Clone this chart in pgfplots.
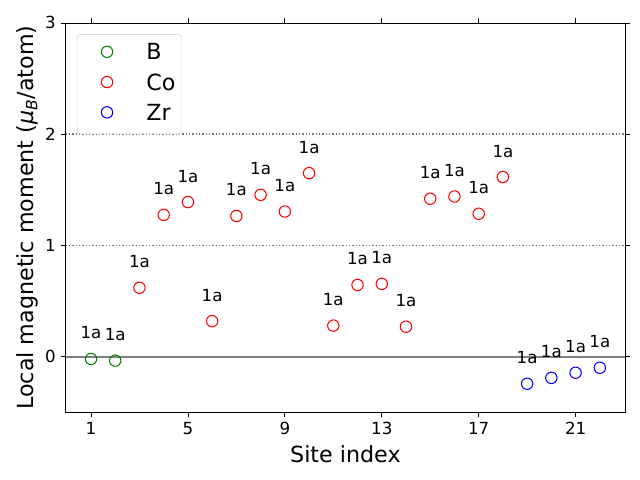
\documentclass[border=0pt]{standalone}
\usepackage{fontspec}
\setmainfont{DejaVu Sans}
\usepackage{pgfplots}
\pgfplotsset{compat=1.18}
\definecolor{mplgreen}{RGB}{0,128,0}
\begin{document}
\begin{tikzpicture}[x=1pt,y=1pt]
\useasboundingbox (0,0) rectangle (460.8,345.6);
\begin{axis}[
  at={(47.2pt,48.7pt)}, anchor=south west,
  scale only axis, width=403pt, height=280.4pt,
  xmin=-0.05, xmax=23.05, ymin=-0.5, ymax=3,
  xtick={1,5,9,13,17,21}, ytick={0,1,2,3},
  tick align=outside, tick style={black, line width=0.6pt},
  major tick length=3.5pt,
  axis line style={line width=0.6pt},
  ticklabel style={font=\fontsize{12}{14}\selectfont},
  /pgf/number format/assume math mode=true,
  xlabel={Site index}, ylabel={Local magnetic moment (\textit{μ}\textsubscript{\textit{B}}/atom)},
  label style={font=\fontsize{16}{19}\selectfont},
  xlabel style={yshift=-1pt},
  ylabel style={yshift=-2pt},
  legend style={font=\fontsize{16}{19}\selectfont, draw=black!15, rounded corners=2pt,
    at={(axis description cs:0.02,0.971)}, anchor=north west,
    row sep=6.3pt, inner xsep=4pt, inner ysep=6.2pt,
    nodes={inner sep=0pt, text height=12pt, text depth=3.5pt},
    /tikz/every even column/.append style={column sep=6pt}},
  legend cell align=left,
  legend image code/.code={\path[draw=none] (0pt,0pt) -- (46pt,0pt); \draw[#1, mark size=4.1pt] plot coordinates {(17.6pt,1.5pt)};},
  clip=false,
  nodes near coords={1a},
  every node near coord/.append style={font=\fontsize{12}{14}\selectfont, anchor=center, yshift=18.7pt, text=black},
]
\addplot[forget plot, gray, line width=1.2pt, nodes near coords={}] coordinates {(-0.05,0) (23.05,0)};
\addplot[forget plot, black!55, dash pattern=on 1.1pt off 1.3pt, line width=1.1pt, nodes near coords={}] coordinates {(-0.05,1) (23.05,1)};
\addplot[forget plot, black!55, dash pattern=on 1.1pt off 1.3pt, line width=1.1pt, nodes near coords={}] coordinates {(-0.05,2) (23.05,2)};
\addplot[only marks, mark=o, mark size=4.1pt, mplgreen, line width=0.75pt] coordinates {(1,-0.02) (2,-0.035)};
\addlegendentry{B}
\addplot[only marks, mark=o, mark size=4.1pt, red, line width=0.75pt] coordinates {
(3,0.62) (4,1.275) (5,1.39) (6,0.32) (7,1.265) (8,1.455) (9,1.305) (10,1.65)
(11,0.28) (12,0.645) (13,0.655) (14,0.27) (15,1.42) (16,1.44) (17,1.285) (18,1.615)};
\addlegendentry{Co}
\addplot[only marks, mark=o, mark size=4.1pt, blue, line width=0.75pt] coordinates {(19,-0.243) (20,-0.19) (21,-0.144) (22,-0.099)};
\addlegendentry{Zr}
\end{axis}
\end{tikzpicture}
\end{document}
